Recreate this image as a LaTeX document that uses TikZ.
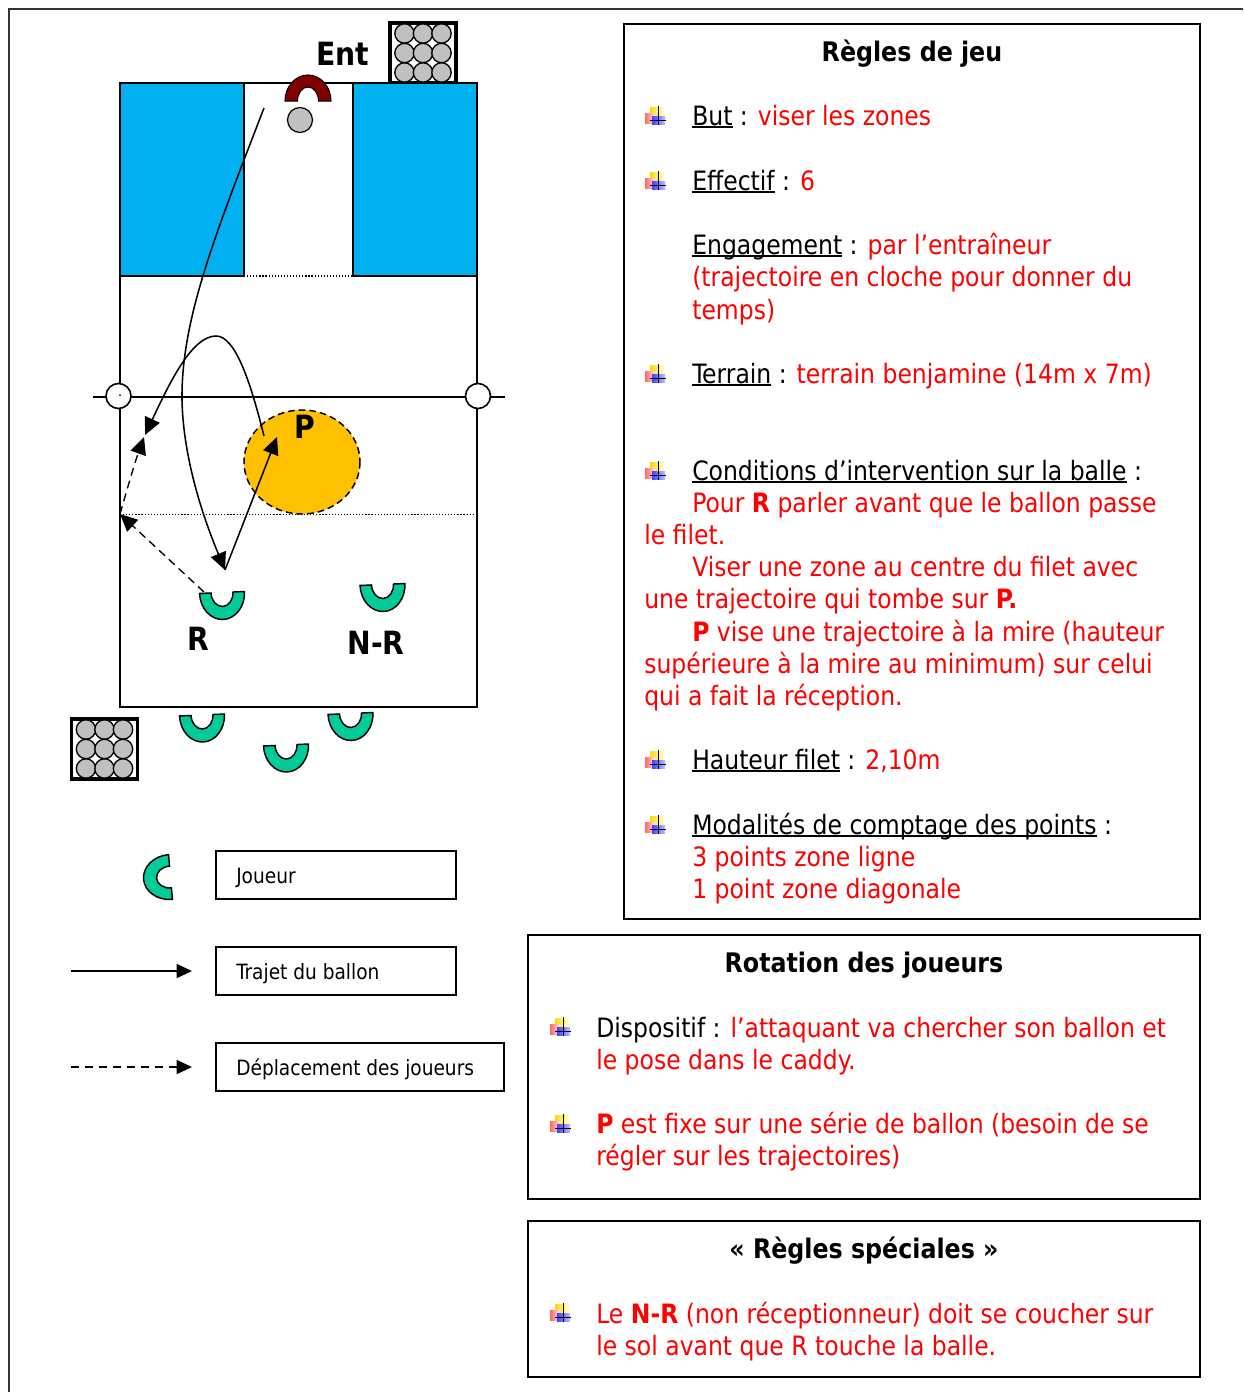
\documentclass[tikz,border=0pt]{standalone}
\usepackage{fontspec}
\setmainfont[FakeStretch=0.98]{DejaVu Sans Condensed}
\usetikzlibrary{arrows.meta}
\definecolor{redt}{HTML}{FF0000}
\definecolor{zone}{HTML}{00B0F0}
\definecolor{gold}{HTML}{FFC000}
\definecolor{play}{HTML}{00CC99}
\definecolor{coach}{HTML}{800000}
\definecolor{ballc}{HTML}{C0C0C0}
\tikzset{
  x=0.75pt,y=-0.75pt,
  ring/.pic={\path[draw=black,line width=1.1pt,fill=play] (-22.5,0) arc[start angle=180,end angle=0,x radius=22.5,y radius=27] -- (11,0) arc[start angle=0,end angle=180,x radius=11,y radius=14] -- cycle;},
  dome/.pic={\path[draw=black,line width=.8pt,fill=coach] (-23,0) arc[start angle=180,end angle=360,x radius=23,y radius=26] -- (10.5,0) arc[start angle=360,end angle=180,x radius=10.5,y radius=14] -- cycle;},
  bul/.pic={
    \shade[left color=yellow!70!orange,right color=yellow!15] (-6,-9) rectangle (8,2);
    \shade[left color=red!60,right color=red!10] (-11,-3) rectangle (-1,7);
    \shade[left color=blue!75,right color=blue!25] (-4,0) rectangle (9,8);
    \draw[line width=.7pt] (2,-10) -- (2,9) (-6,4) -- (10,4);},
  caddy/.pic={
    \draw[line width=2.6pt,fill=white] (-33,-30) rectangle (33,30);
    \foreach \a in {-18.5,0,18.5}\foreach \b in {-19.5,0,19.5}
      \draw[line width=1pt,fill=ballc] (\a,\b) circle[radius=9.7];},
  txt/.style={anchor=base west,inner sep=0pt,yshift=.75pt,font=\fontsize{20}{24}\selectfont},
  ttl/.style={anchor=base,inner sep=0pt,font=\fontsize{20.2}{24}\selectfont\bfseries},
  lab/.style={anchor=base,inner sep=0pt,font=\fontsize{24}{26}\selectfont\bfseries},
  leg/.style={draw,line width=1.2pt,anchor=north west,inner sep=0pt,outer sep=0pt},
  legt/.style={anchor=base west,inner sep=0pt,yshift=.75pt,font=\fontsize{15.8}{20}\selectfont},
  frame/.style={draw,line width=1.2pt},
  ball/.style={line width=1.15pt,-{Triangle[length=13pt,width=12pt]}},
  move/.style={line width=1pt,dash pattern=on 6pt off 4pt,-{Triangle[length=13pt,width=12pt]}},
}
\newcommand{\rt}[1]{\textcolor{redt}{#1}}
\newsavebox{\ulbox}
\newcommand{\ul}[1]{\sbox{\ulbox}{#1}\leavevmode\rlap{\rule[-2pt]{\wd\ulbox}{1.1pt}}\usebox{\ulbox}}
\begin{document}
\begin{tikzpicture}
\useasboundingbox (0,0) rectangle (1243,1392);
% outer frame
\draw[line width=1.2pt,black!80] (9,1392) -- (9,9) -- (1243,9);
% caddies
\pic at (423,53) {caddy};
\pic at (104.5,749) {caddy};
% court
\fill[white] (120,83) rectangle (477,707);
\draw[line width=1.3pt,fill=zone] (120,83) rectangle (244,276);
\draw[line width=1.3pt,fill=zone] (353,83) rectangle (477,276);
\draw[line width=1.1pt] (244,83) -- (353,83);
\draw[line width=1.3pt] (120,276) -- (120,707) -- (477,707) -- (477,276);
\draw[line width=.9pt,dash pattern=on .9pt off 1.4pt] (244,276) -- (353,276);
\draw[line width=.7pt,dash pattern=on .9pt off 1.4pt] (120,514) -- (473,514);
% orange zone
\draw[fill=gold,line width=1.1pt,dash pattern=on 5pt off 3pt] (302,462) ellipse[x radius=58,y radius=52];
\node[lab] (p) at (305,438) {P};
% net
\draw[line width=1.2pt] (93,397) -- (505,397);
\draw[line width=1.2pt,fill=white] (118.5,396) circle[radius=12.5];
\draw[line width=1.2pt,fill=white] (478,396) circle[radius=12.5];
\fill (120,395) circle[radius=1];
% people
\pic at (308,101) {dome};
\draw[line width=.9pt,fill=ballc] (300,120) circle[radius=12.5];
\pic[rotate=2.5] at (222,592.5) {ring};
\pic[rotate=2.5] at (382.5,584.5) {ring};
\pic[rotate=2.5] at (202,715) {ring};
\pic[rotate=2.5] at (350.5,713.5) {ring};
\pic[rotate=2.5] at (286,745) {ring};
\pic[rotate=-85] at (170.5,877) {ring};
% labels
\node[lab] (ent) at (343,65) {Ent};
\node[lab] (r) at (198,650) {R};
\node[lab] (nr) at (376,654) {N-R};
% trajectories
\coordinate (a0) at (264,108);
\coordinate (a1) at (225,570);
\coordinate (a2) at (277,437);
\coordinate (a3) at (264,436);
\coordinate (a4) at (145,435);
\coordinate (d0) at (204,592);
\coordinate (d1) at (120,514);
\coordinate (d2) at (144,437);
\draw[ball] (a0) .. controls (215,235) and (181,320) .. (182,400) .. controls (183,450) and (198,505) .. (a1);
\draw[ball] (a1) -- (a2);
\draw[ball] (a3) .. controls (250,380) and (235,336) .. (216,336) .. controls (192,336) and (170,382) .. (a4);
\draw[move] (d0) -- (d1);
\draw[move] (d1) .. controls (127,490) and (134,465) .. (d2);
% legend
\node[leg,minimum width=180pt,minimum height=36pt] (l1) at (216,851) {};
\node[leg,minimum width=180pt,minimum height=36pt] (l2) at (216,947) {};
\node[leg,minimum width=216pt,minimum height=36pt] (l3) at (216,1043) {};
\node[legt] (t1) at (236,884) {Joueur};
\node[legt] (t2) at (236,980) {Trajet du ballon};
\node[legt] (t3) at (236,1076) {Déplacement des joueurs};
\coordinate (c1) at (71,971); \coordinate (c2) at (192,971);
\coordinate (c3) at (71,1067); \coordinate (c4) at (192,1067);
\draw[line width=1.1pt,-{Triangle[length=11.5pt,width=10.5pt]}] (c1) -- (c2);
\draw[line width=1.1pt,dash pattern=on 6pt off 4.5pt,-{Triangle[length=11.5pt,width=10.5pt]}] (c3) -- (c4);
% frames
\draw[frame] (624,24) rectangle (1200,919);
\draw[frame] (528,935) rectangle (1200,1199);
\draw[frame] (528,1221) rectangle (1200,1377);
% box 1
\node[ttl] (h1) at (912,61) {Règles de jeu};
\foreach \y in {116,181,374,471,760,825} \pic at (656,\y) {bul};
\node[txt] (b1) at (692,126) {\ul{But} : \rt{viser les zones}};
\node[txt] (b2) at (692,191) {\ul{Effectif} : \rt{6}};
\node[txt] (b3) at (692,255) {\ul{Engagement} : \rt{par l’entraîneur}};
\node[txt] (b4) at (692,287) {\rt{(trajectoire en cloche pour donner du}};
\node[txt] (b5) at (692,320) {\rt{temps)}};
\node[txt] (b6) at (692,384) {\ul{Terrain} : \rt{terrain benjamine (14m x 7m)}};
\node[txt] (b7) at (692,481) {\ul{Conditions d’intervention sur la balle} :};
\node[txt] (b8) at (692,513) {\rt{Pour \textbf{R} parler avant que le ballon passe}};
\node[txt] (b9) at (644,545) {\rt{le filet.}};
\node[txt] (b10) at (692,577) {\rt{Viser une zone au centre du filet avec}};
\node[txt] (b11) at (644,609) {\rt{une trajectoire qui tombe sur \textbf{P.}}};
\node[txt] (b12) at (692,642) {\rt{\textbf{P} vise une trajectoire à la mire (hauteur}};
\node[txt] (b13) at (644,674) {\rt{supérieure à la mire au minimum) sur celui}};
\node[txt] (b14) at (644,706) {\rt{qui a fait la réception.}};
\node[txt] (b15) at (692,770) {\ul{Hauteur filet} : \rt{2,10m}};
\node[txt] (b16) at (692,835) {\ul{Modalités de comptage des points} :};
\node[txt] (b17) at (692,867) {\rt{3 points zone ligne}};
\node[txt] (b18) at (692,899) {\rt{1 point zone diagonale}};
% box 2
\node[ttl] (h2) at (864,972) {Rotation des joueurs};
\foreach \y in {1027,1124} \pic at (561,\y) {bul};
\node[txt] (c5) at (596,1038) {Dispositif : \rt{l’attaquant va chercher son ballon et}};
\node[txt] (c6) at (596,1070) {\rt{le pose dans le caddy.}};
\node[txt] (c7) at (596,1134) {\rt{\textbf{P} est fixe sur une série de ballon (besoin de se}};
\node[txt] (c8) at (596,1166) {\rt{régler sur les trajectoires)}};
% box 3
\node[ttl] (h3) at (864,1258) {« Règles spéciales »};
\pic at (561,1313) {bul};
\node[txt] (e1) at (596,1324) {\rt{Le \textbf{N-R} (non réceptionneur) doit se coucher sur}};
\node[txt] (e2) at (596,1356) {\rt{le sol avant que R touche la balle.}};
\end{tikzpicture}
\end{document}
